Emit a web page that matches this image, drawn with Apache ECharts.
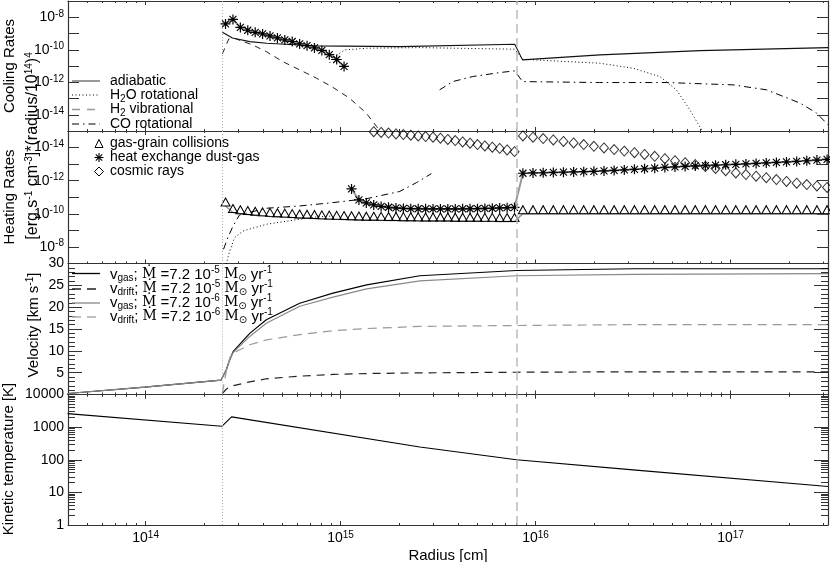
<!DOCTYPE html>
<html>
<head>
<meta charset="utf-8">
<script src="https://cdn.jsdelivr.net/npm/echarts@6/dist/echarts.min.js"></script>
<style>
  html, body { margin: 0; padding: 0; background: #fff; }
  #main { width: 830px; height: 562px; }
</style>
</head>
<body>
<div id="main"></div>
<script>
// ---- positions of the two vertical markers (cm) ----
const innerEdgeR = 2.475e14;
const shockR = 7.98e15;

// ---- radial grid of the model ----
const rInner = [2.570e14, 2.805e14, 3.062e14, 3.342e14, 3.648e14, 3.981e14, 4.345e14, 4.742e14, 5.176e14, 5.649e14,
  6.166e14, 6.730e14, 7.345e14, 8.017e14, 8.750e14, 9.550e14, 1.042e15, 1.138e15, 1.242e15, 1.355e15,
  1.479e15, 1.614e15, 1.762e15, 1.923e15, 2.099e15, 2.291e15, 2.500e15, 2.729e15, 2.979e15, 3.251e15,
  3.548e15, 3.873e15, 4.227e15, 4.613e15, 5.035e15, 5.495e15, 5.998e15, 6.546e15, 7.145e15, 7.798e15];
const rOuter = [8.61e15, 9.70e15, 1.094e16, 1.233e16, 1.390e16, 1.567e16, 1.766e16, 1.991e16, 2.244e16, 2.529e16,
  2.851e16, 3.214e16, 3.622e16, 4.083e16, 4.603e16, 5.188e16, 5.848e16, 6.592e16, 7.430e16, 8.375e16,
  9.441e16, 1.064e17, 1.199e17, 1.352e17, 1.524e17, 1.718e17, 1.936e17, 2.183e17, 2.460e17, 2.773e17, 3.126e17];

// ---- cooling rates ----
const adiabaticR = [2.475e14, 2.79e14, 3.42e14, 4.18e14, 6.17e14, 7.53e14, 2.01e15, 7.82e15, 8.57e15, 2.14e16, 6.97e16, 3.16e17];
const adiabatic = [1.19e-9, 5.33e-10, 3.16e-10, 2.52e-10, 1.98e-10, 1.72e-10, 1.56e-10, 2.19e-10, 2.38e-11, 4.82e-11, 8.85e-11, 1.35e-10];
const h2oCoolR = [8.79e14, 9.1e14, 1.05e15, 1.36e15, 2.55e15, 7.82e15, 8.57e15, 1.44e16, 2.13e16, 3.15e16, 4.34e16, 5.28e16, 6.18e16, 7.1e16, 7.46e16];
const h2oCool = [1.56e-11, 3.15e-11, 9.77e-11, 1.24e-10, 1.35e-10, 1.08e-10, 2.62e-11, 1.87e-11, 1.49e-11, 7.34e-12, 2.24e-12, 3.41e-13, 2.01e-14, 1.19e-15, 3.2e-16];
const h2CoolR = [2.475e14, 2.67e14, 2.86e14, 3.54e14, 4.16e14, 5.05e14, 6.17e14, 7.52e14, 9.1e14, 1.11e15, 1.35e15, 1.53e15, 1.59e15];
const h2Cool = [5.55e-11, 4.63e-10, 4.98e-10, 1.98e-10, 7.69e-11, 1.87e-11, 5.78e-12, 1.79e-12, 5.0e-13, 1.05e-13, 1.32e-14, 1.9e-15, 9.3e-16];
const coCoolR = [3.22e15, 3.76e15, 4.76e15, 6.55e15, 7.82e15, 8.57e15, 2.13e16, 4.7e16, 1.03e17, 1.53e17, 2.27e17, 2.76e17, 3.16e17];
const coCool = [3.41e-13, 1.1e-12, 2.24e-12, 3.94e-12, 5.01e-12, 1.1e-12, 9.6e-13, 9.6e-13, 6.9e-13, 3.41e-13, 5.25e-14, 1.27e-14, 2.42e-15];
// dust-gas exchange where it cools (rInner[0..16])
const dustCool = [3.86e-9, 7.31e-9, 2.36e-9, 1.58e-9, 1.18e-9, 9.4e-10, 7.08e-10, 5.33e-10, 4.02e-10, 3.21e-10,
  2.29e-10, 1.77e-10, 1.30e-10, 9.12e-11, 4.95e-11, 2.51e-11, 9.48e-12];

// ---- heating rates ----
const grainInner = [3.36e-11, 8.28e-11, 9.93e-11, 1.11e-10, 1.22e-10, 1.33e-10, 1.43e-10, 1.51e-10, 1.59e-10, 1.69e-10,
  1.78e-10, 1.86e-10, 1.94e-10, 2.02e-10, 2.10e-10, 2.16e-10, 2.22e-10, 2.29e-10, 2.36e-10, 2.42e-10,
  2.45e-10, 2.49e-10, 2.52e-10, 2.56e-10, 2.59e-10, 2.63e-10, 2.67e-10, 2.70e-10, 2.70e-10, 2.74e-10,
  2.74e-10, 2.78e-10, 2.78e-10, 2.82e-10, 2.82e-10, 2.86e-10, 2.86e-10, 2.90e-10, 2.90e-10, 2.90e-10];
const grainOuter = [9.8e-11, 9.8e-11, 9.8e-11, 9.8e-11, 9.8e-11, 9.8e-11, 9.8e-11, 9.8e-11, 9.8e-11, 9.8e-11,
  9.8e-11, 9.8e-11, 9.8e-11, 9.8e-11, 9.8e-11, 9.8e-11, 9.8e-11, 9.8e-11, 9.8e-11, 9.8e-11,
  9.8e-11, 9.8e-11, 9.8e-11, 9.8e-11, 9.8e-11, 9.8e-11, 9.8e-11, 9.8e-11, 9.8e-11, 9.8e-11, 9.8e-11];
// rInner[17..39]
const dustHeatInner = [3.15e-12, 1.46e-11, 2.21e-11, 2.92e-11, 3.60e-11, 4.02e-11, 4.44e-11, 4.75e-11, 4.89e-11, 4.95e-11,
  5.02e-11, 5.09e-11, 5.09e-11, 5.09e-11, 5.09e-11, 5.02e-11, 4.95e-11, 4.89e-11, 4.75e-11, 4.62e-11,
  4.44e-11, 4.25e-11, 4.13e-11];
const dustHeatOuter = [3.55e-13, 3.40e-13, 3.31e-13, 3.18e-13, 3.08e-13, 2.96e-13, 2.84e-13, 2.72e-13, 2.58e-13, 2.40e-13,
  2.24e-13, 2.06e-13, 1.90e-13, 1.75e-13, 1.58e-13, 1.48e-13, 1.38e-13, 1.29e-13, 1.22e-13, 1.15e-13,
  1.09e-13, 1.03e-13, 9.73e-14, 9.08e-14, 8.45e-14, 7.89e-14, 7.36e-14, 6.87e-14, 6.24e-14, 5.73e-14, 5.20e-14];
// rInner[17..39]
const cosmicInner = [5.65e-16, 7.46e-16, 9.86e-16, 1.10e-15, 1.22e-15, 1.34e-15, 1.50e-15, 1.65e-15, 1.79e-15, 1.98e-15,
  2.15e-15, 2.37e-15, 2.72e-15, 3.22e-15, 3.80e-15, 4.56e-15, 5.46e-15, 6.64e-15, 7.94e-15, 9.53e-15,
  1.12e-14, 1.39e-14, 1.76e-14];
const cosmicOuter = [1.98e-15, 2.37e-15, 2.84e-15, 3.45e-15, 4.25e-15, 5.24e-15, 6.64e-15, 8.40e-15, 1.05e-14, 1.31e-14,
  1.64e-14, 2.05e-14, 2.59e-14, 3.38e-14, 4.72e-14, 6.24e-14, 8.22e-14, 1.06e-13, 1.38e-13, 1.82e-13,
  2.51e-13, 3.40e-13, 4.25e-13, 5.31e-13, 6.64e-13, 8.53e-13, 1.11e-12, 1.41e-12, 1.71e-12, 2.07e-12, 2.56e-12];
const coHeatR = [2.51e14, 2.64e14, 2.81e14, 3.03e14, 4.16e14, 6.17e14, 9.1e14, 1.36e15, 2.01e15, 2.45e15, 2.92e15];
const coHeat = [1.39e-8, 2.76e-9, 5.42e-10, 1.17e-10, 4.62e-11, 3.36e-11, 2.12e-11, 1.22e-11, 4.47e-12, 1.31e-12, 3.75e-13];
const h2oHeatR = [2.59e14, 2.70e14, 2.86e14, 3.16e14, 4.16e14, 6.17e14, 7.52e14, 9.1e14];
const h2oHeat = [1.07e-7, 1.76e-8, 2.76e-9, 1.09e-9, 4.28e-10, 2.13e-10, 1.55e-10, 1.35e-10];

// ---- velocities (km/s) ----
const gasR = [3.98e13, 9.9e13, 2.44e14, 2.59e14, 2.70e14, 2.81e14, 3.42e14, 4.16e14, 6.17e14, 9.14e14, 1.36e15, 2.55e15, 7.98e15, 3.16e16, 3.16e17];
const vGas5 = [0.23, 1.7, 3.3, 5.6, 7.9, 9.8, 14.0, 17.1, 20.9, 23.2, 25.1, 27.2, 28.4, 28.8, 28.8];
const vGas6 = [0.23, 1.7, 3.3, 5.6, 7.9, 9.6, 13.3, 16.3, 20.2, 22.3, 24.2, 26.0, 27.2, 27.5, 27.7];
const driftR = [2.475e14, 2.59e14, 2.70e14, 2.81e14, 3.42e14, 4.16e14, 6.17e14, 9.14e14, 1.36e15, 2.55e15, 7.98e15, 3.16e16, 3.16e17];
const vDrift5 = [0.2, 1.2, 1.7, 2.0, 2.9, 3.6, 4.2, 4.6, 4.8, 4.95, 5.1, 5.2, 5.2];
const vDrift6 = [0.3, 5.2, 8.4, 9.5, 11.4, 12.5, 13.7, 14.6, 15.1, 15.6, 15.8, 16.0, 16.0];

// ---- kinetic temperature (K) ----
const tempR = [3.98e13, 2.46e14, 2.76e14, 2.55e15, 7.98e15, 3.16e16, 3.16e17];
const tempK = [2600, 1060, 2060, 246, 100, 49, 15.1];

// ---------------------------------------------------------------
const FONT = "'Liberation Sans', Arial, Helvetica, sans-serif";
const SERIF = "'DejaVu Serif', 'Liberation Serif', serif";
const AX = '#333';
const RICH = {
  sp: { fontSize: 10, lineHeight: 10, verticalAlign: 'top', fontFamily: FONT, color: '#000' },
  sb: { fontSize: 10, lineHeight: 10, verticalAlign: 'bottom', fontFamily: FONT, color: '#000' },
  sr: { fontSize: 14, fontFamily: SERIF, color: '#000' },
  sun: { fontSize: 10, lineHeight: 10, verticalAlign: 'bottom', fontFamily: "'DejaVu Sans', sans-serif", color: '#000' }
};
const ASTER = 'path://M0,4.4H10V5.6H0Z M4.4,0H5.6V10H4.4Z M1.1,1.9L1.9,1.1L8.9,8.1L8.1,8.9Z M8.1,1.1L8.9,1.9L1.9,8.9L1.1,8.1Z';

function pairs(rs, vs, off) {
  off = off || 0;
  return vs.map((v, i) => [rs[i + off], v]);
}
function isPow(v) {
  const e = Math.round(Math.log10(v));
  return Math.abs(v / Math.pow(10, e) - 1) < 1e-6 ? e : null;
}

const grids = [
  { left: 68, width: 760, top: 1, height: 130 },
  { left: 68, width: 760, top: 131, height: 132.5 },
  { left: 68, width: 760, top: 263.5, height: 131 },
  { left: 68, width: 760, top: 394.5, height: 130.5 }
].map(g => Object.assign(g, { containLabel: false, outerBoundsMode: 'none' }));

const xAxes = [];
for (let i = 0; i < 4; i++) {
  ['bottom', 'top'].forEach(pos => {
    const withLabel = (i === 3 && pos === 'bottom');
    xAxes.push({
      type: 'log', logBase: 10, gridIndex: i, position: pos, min: 4e13, max: 3.16e17,
      axisLine: { show: true, lineStyle: { color: AX, width: 1.2 } },
      axisTick: { show: true, inside: true, length: 4, lineStyle: { color: AX } },
      minorTick: { show: true, splitNumber: 9, length: 2, lineStyle: { color: AX } },
      splitLine: { show: false }, minorSplitLine: { show: false },
      axisLabel: {
        show: withLabel, margin: 5, showMinLabel: false, showMaxLabel: false,
        fontSize: 14, fontFamily: FONT, color: '#000', lineHeight: 17, rich: RICH,
        formatter: v => { const e = isPow(v); return e === null ? '' : '10{sp|' + e + '}'; }
      },
      name: withLabel ? 'Radius [cm]' : '', nameLocation: 'middle', nameGap: 22,
      nameTextStyle: { fontSize: 15, fontFamily: FONT, color: '#000' }
    });
  });
}

function rateLabel(v) {
  const e = isPow(v);
  return (e === null || e % 2 !== 0) ? '' : '10{sp|' + e + '}';
}
const yBase = {
  axisLine: { show: true, lineStyle: { color: AX, width: 1.2 } },
  splitLine: { show: false }, minorSplitLine: { show: false }
};
const ySpecs = [
  { type: 'log', min: 1e-15, max: 1e-7, inverse: false, tick: 11, minor: null, fmt: rateLabel },
  { type: 'log', min: 1e-15, max: 1e-7, inverse: true, tick: 11, minor: null, fmt: rateLabel },
  { type: 'value', min: 0, max: 30, interval: 5, tick: 14, minor: 5, fmt: v => (v === 0 ? '' : String(v)) },
  { type: 'log', min: 1, max: 1e4, tick: 14, minor: 9, fmt: v => (isPow(v) === null ? '' : String(Math.round(v))) }
];
const yAxes = [];
ySpecs.forEach((s, i) => {
  ['left', 'right'].forEach(pos => {
    const ax = Object.assign({}, yBase, {
      type: s.type, gridIndex: i, position: pos, min: s.min, max: s.max, inverse: !!s.inverse,
      axisTick: { show: true, inside: true, length: s.tick, lineStyle: { color: AX } },
      minorTick: { show: !!s.minor, splitNumber: s.minor || 5, length: 7, lineStyle: { color: AX } },
      axisLabel: {
        show: pos === 'left', margin: 4, fontSize: 14, fontFamily: FONT, color: '#000',
        lineHeight: 17, rich: RICH, formatter: s.fmt
      }
    });
    if (s.type === 'log') ax.logBase = 10;
    if (s.interval) ax.interval = s.interval;
    yAxes.push(ax);
  });
});

function vlines() {
  return {
    silent: true, symbol: ['none', 'none'], label: { show: false }, animation: false,
    data: [
      { xAxis: innerEdgeR, lineStyle: { color: '#aaa', type: [1, 2], width: 1 } },
      { xAxis: shockR, lineStyle: { color: '#bbb', type: [9, 5], width: 1.5 } }
    ]
  };
}
function curve(panel, data, color, width, dash, extra) {
  return Object.assign({
    type: 'line', xAxisIndex: 2 * panel, yAxisIndex: 2 * panel, data: data,
    symbol: 'none', showSymbol: false, silent: true, z: 3,
    lineStyle: { color: color, width: width, type: dash || 'solid' }
  }, extra || {});
}
const hollow = { color: 'rgba(0,0,0,0)', borderColor: '#000', borderWidth: 1 };

const series = [
  // panel 1: cooling
  curve(0, pairs(adiabaticR, adiabatic), '#111', 1.1, 'solid', { markLine: vlines() }),
  curve(0, pairs(h2oCoolR, h2oCool), '#000', 1, [1, 2.5]),
  curve(0, pairs(h2CoolR, h2Cool), '#222', 1, [6, 5]),
  curve(0, pairs(coCoolR, coCool), '#000', 1, [7, 4, 1.5, 4]),
  curve(0, pairs(rInner, dustCool), '#999', 2, 'solid', {
    symbol: ASTER, symbolSize: 10, showSymbol: true, showAllSymbol: true, itemStyle: { color: '#000' }
  }),
  // panel 2: heating
  curve(1, pairs(coHeatR, coHeat), '#000', 1, [7, 4, 1.5, 4], { markLine: vlines() }),
  curve(1, pairs(h2oHeatR, h2oHeat), '#000', 1, [1, 2.5]),
  curve(1, pairs(rInner, grainInner).concat(pairs(rOuter, grainOuter)), '#999', 1.5, 'solid', {
    symbol: 'triangle', symbolSize: [9, 8], symbolOffset: [0, -4], showSymbol: true, showAllSymbol: true,
    itemStyle: hollow
  }),
  curve(1, pairs(rInner, dustHeatInner, 17).concat(pairs(rOuter, dustHeatOuter)), '#999', 2, 'solid', {
    symbol: ASTER, symbolSize: 10, showSymbol: true, showAllSymbol: true, itemStyle: { color: '#000' }
  }),
  {
    type: 'scatter', xAxisIndex: 2, yAxisIndex: 2, silent: true, z: 4,
    data: pairs(rInner, cosmicInner, 17).concat(pairs(rOuter, cosmicOuter)),
    symbol: 'diamond', symbolSize: [9, 10], itemStyle: hollow
  },
  // panel 3: velocity
  curve(2, pairs(gasR, vGas5), '#000', 1.2, 'solid', { markLine: vlines() }),
  curve(2, pairs(gasR, vGas6), '#888', 1.2, 'solid'),
  curve(2, pairs(driftR, vDrift5), '#222', 1.2, [8, 6]),
  curve(2, pairs(driftR, vDrift6), '#999', 1.2, [9, 6]),
  // panel 4: temperature
  curve(3, pairs(tempR, tempK), '#000', 1.1, 'solid', { markLine: vlines() })
];

// ---- legends and axis titles ----
function txt(x, y, text, rot, align, size) {
  return {
    type: 'text', x: x, y: y, rotation: rot || 0, silent: true, z: 10,
    style: {
      text: text, fill: '#000', fontSize: size || 14, fontFamily: FONT, lineHeight: 18,
      align: align || 'left', verticalAlign: 'middle', rich: RICH
    }
  };
}
function sample(y, color, dash, w) {
  return {
    type: 'line', silent: true, z: 10, shape: { x1: 72, y1: y, x2: 100, y2: y },
    style: { stroke: color, lineWidth: w || 1, lineDash: dash || null }
  };
}
const up = Math.PI / 2;
const graphic = [
  txt(10, 66, 'Cooling Rates', up, 'center', 15),
  txt(10, 197, 'Heating Rates', up, 'center', 15),
  txt(33, 146, '[erg s{sp|-1} cm{sp|-3}]*(radius/10{sp|14}){sp|4}', up, 'center', 16),
  txt(34, 325, 'Velocity [km s{sp|-1}]', up, 'center', 15),
  txt(9, 459, 'Kinetic temperature [K]', up, 'center', 15),

  sample(81, '#999', null, 2), txt(110, 81, 'adiabatic'),
  sample(95, '#000', [1, 2.5], 1), txt(110, 95, 'H{sb|2}O rotational'),
  sample(109.5, '#999', [8, 7], 1.5), txt(110, 109.5, 'H{sb|2} vibrational'),
  sample(124, '#000', [7, 4, 1.5, 4], 1), txt(110, 124, 'CO rotational'),

  { type: 'polygon', silent: true, z: 10, shape: { points: [[95, 147.5], [99, 139.5], [103, 147.5]] },
    style: { fill: 'none', stroke: '#000', lineWidth: 1 } },
  txt(110, 143.5, 'gas-grain collisions'),
  { type: 'line', silent: true, z: 10, shape: { x1: 94.5, y1: 157.5, x2: 103.5, y2: 157.5 }, style: { stroke: '#000', lineWidth: 1.1 } },
  { type: 'line', silent: true, z: 10, shape: { x1: 99, y1: 153, x2: 99, y2: 162 }, style: { stroke: '#000', lineWidth: 1.1 } },
  { type: 'line', silent: true, z: 10, shape: { x1: 95.8, y1: 154.3, x2: 102.2, y2: 160.7 }, style: { stroke: '#000', lineWidth: 1.1 } },
  { type: 'line', silent: true, z: 10, shape: { x1: 102.2, y1: 154.3, x2: 95.8, y2: 160.7 }, style: { stroke: '#000', lineWidth: 1.1 } },
  txt(110, 157.5, 'heat exchange dust-gas'),
  { type: 'polygon', silent: true, z: 10, shape: { points: [[99, 167], [103.5, 171.5], [99, 176], [94.5, 171.5]] },
    style: { fill: 'none', stroke: '#000', lineWidth: 1 } },
  txt(110, 171.5, 'cosmic rays'),

  sample(273.5, '#000', null, 1.3), txt(110, 274.5, 'v{sb|gas}; {sr|Ṁ} =7.2 10{sp|-5} {sr|M}{sun|⊙} yr{sp|-1}', 0, 'left', 15),
  sample(289, '#222', [9, 6], 1.3), txt(110, 288.5, 'v{sb|drift}; {sr|Ṁ} =7.2 10{sp|-5} {sr|M}{sun|⊙} yr{sp|-1}', 0, 'left', 15),
  sample(303, '#888', null, 1.3), txt(110, 302.5, 'v{sb|gas}; {sr|Ṁ} =7.2 10{sp|-6} {sr|M}{sun|⊙} yr{sp|-1}', 0, 'left', 15),
  sample(317, '#aaa', [9, 6], 1.3), txt(110, 316.5, 'v{sb|drift}; {sr|Ṁ} =7.2 10{sp|-6} {sr|M}{sun|⊙} yr{sp|-1}', 0, 'left', 15)
];

const chart = echarts.init(document.getElementById('main'), null, { renderer: 'canvas' });
chart.setOption({
  animation: false,
  backgroundColor: '#fff',
  textStyle: { fontFamily: FONT },
  grid: grids,
  xAxis: xAxes,
  yAxis: yAxes,
  series: series,
  graphic: graphic
});
</script>
</body>
</html>
